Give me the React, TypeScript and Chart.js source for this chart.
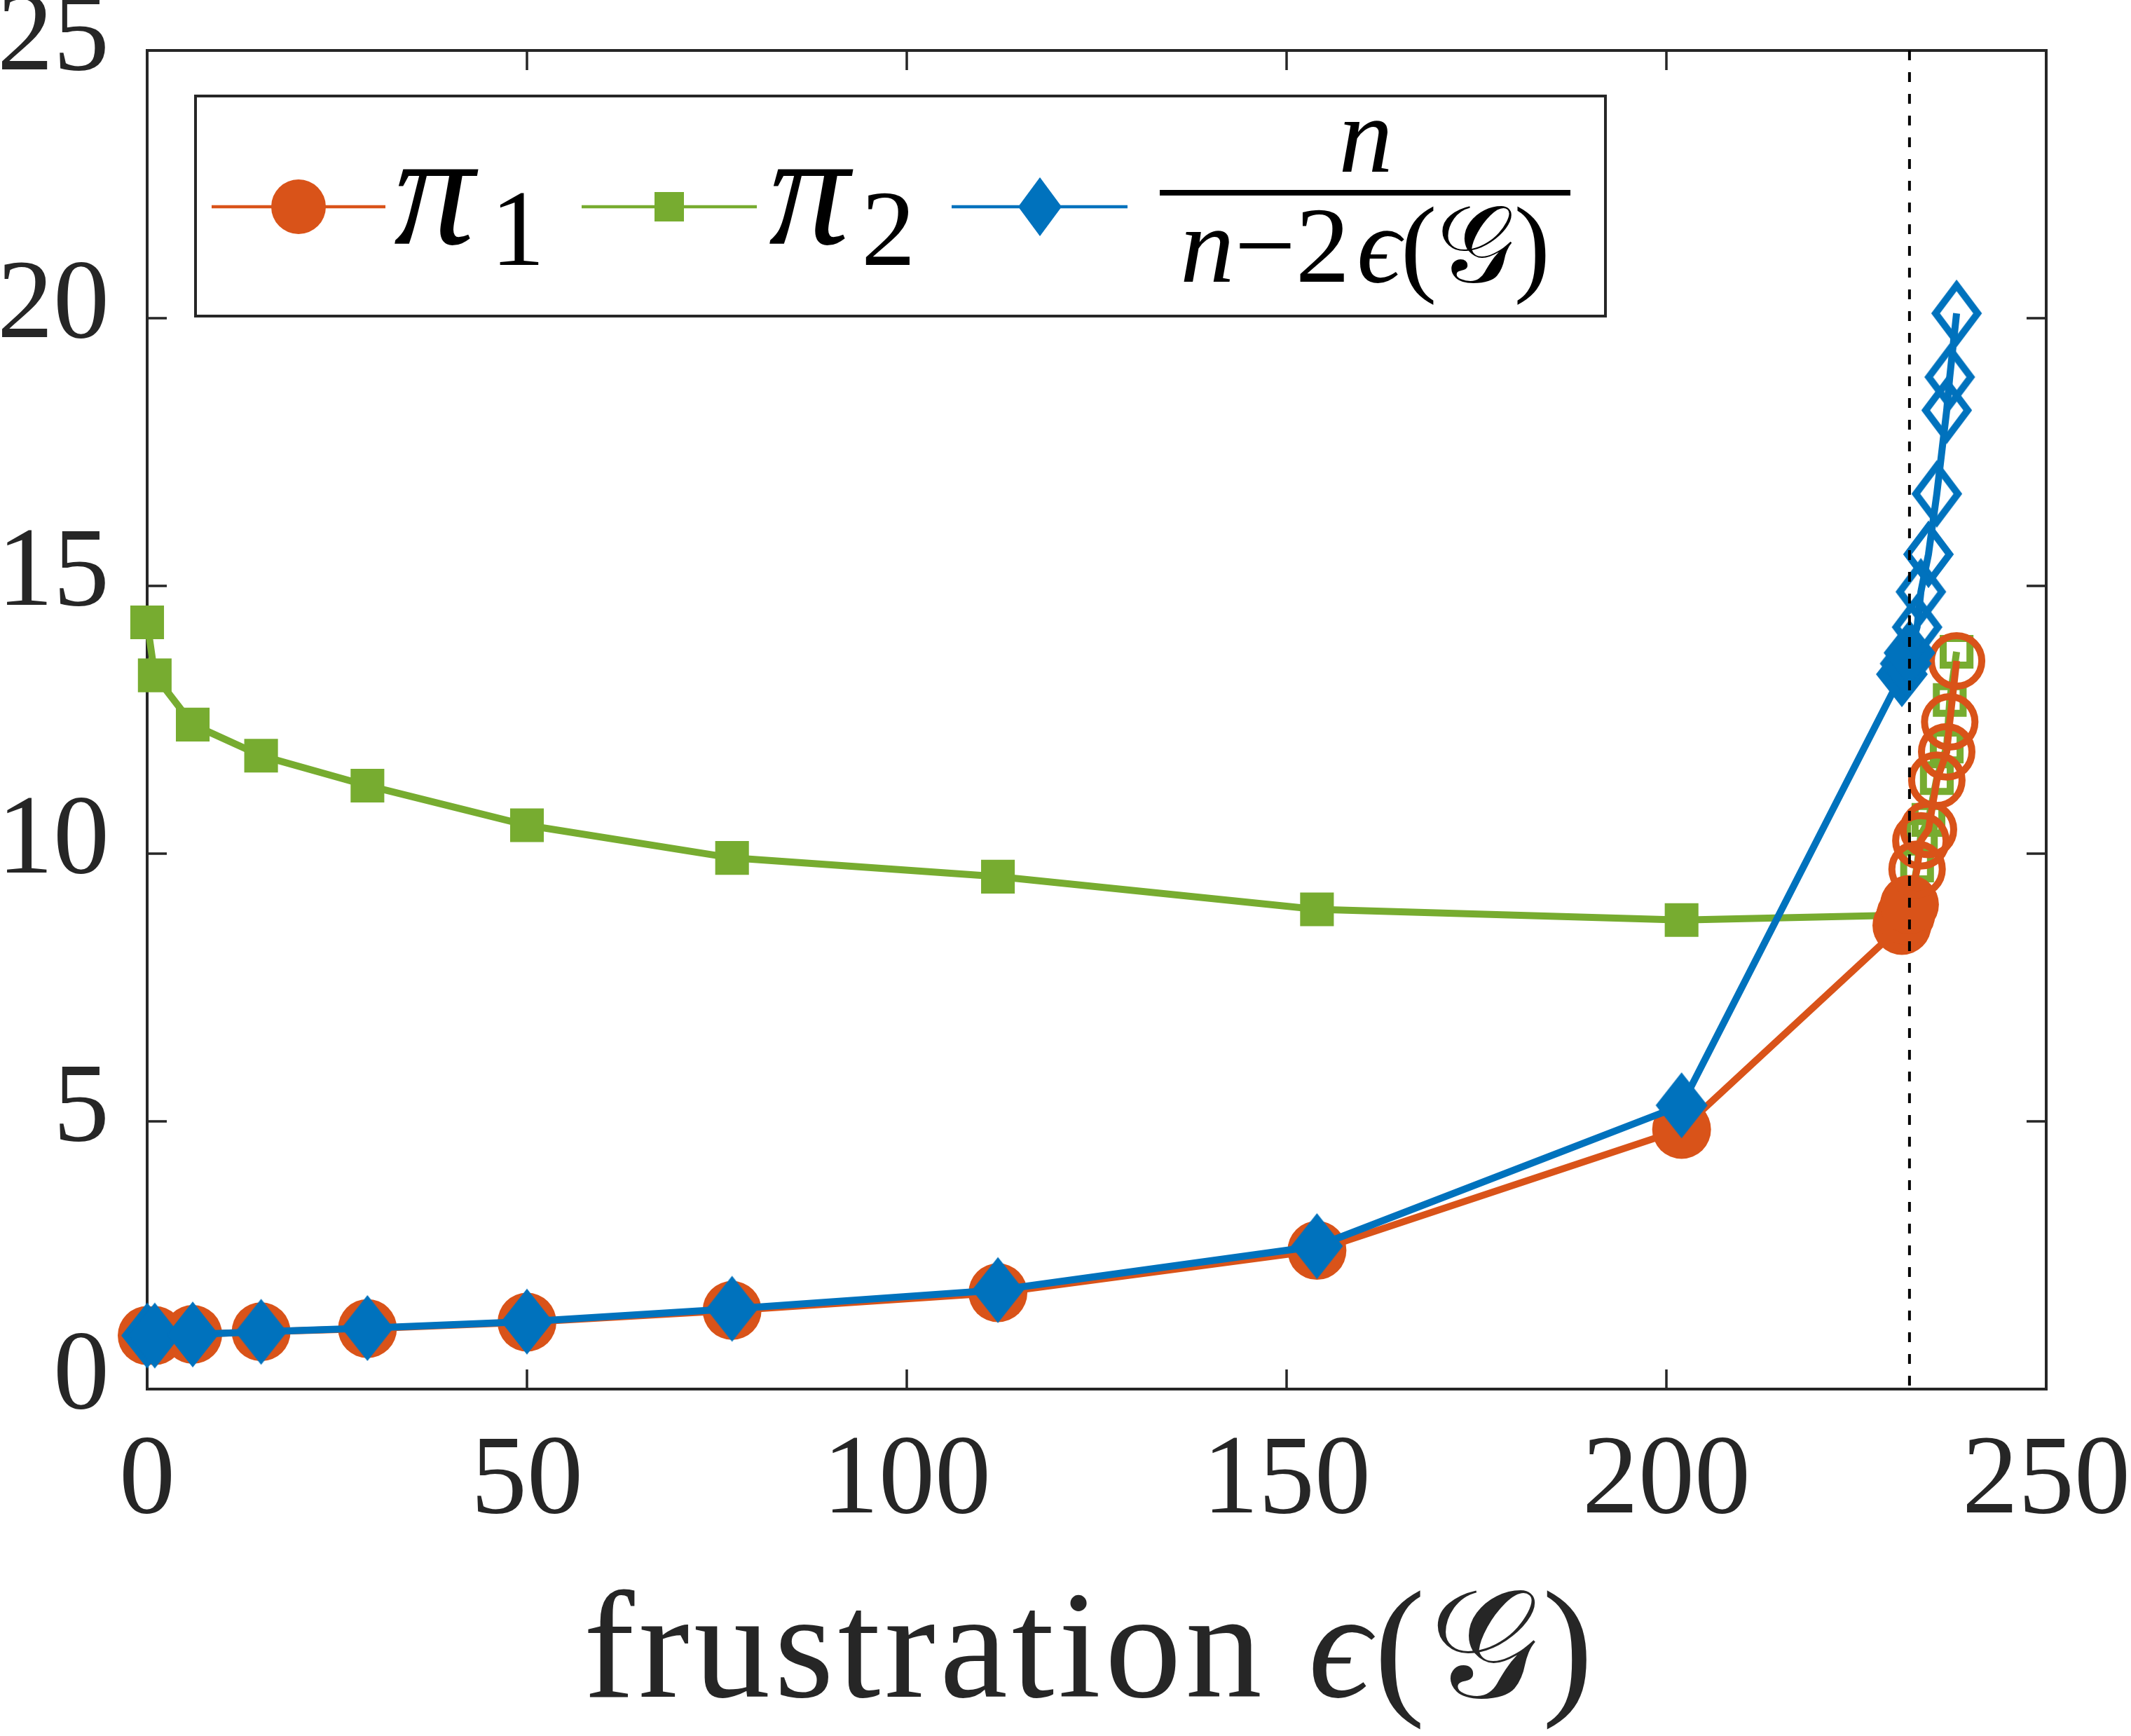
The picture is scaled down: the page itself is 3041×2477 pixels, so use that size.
import React, { useEffect, useRef } from 'react';
import { Chart, registerables } from 'chart.js';

Chart.register(...registerables);

const W = 3041;
const H = 2477;

// frustration of each graph in the sequence (x axis)
const frustration = [0, 1, 6, 15, 29, 50, 77, 112, 154, 202, 231, 231.5, 232, 233, 233.5, 234.5, 235.6, 236.9, 237.3, 238.2];
const pi1 = [1.0, 1.0, 1.02, 1.07, 1.13, 1.25, 1.47, 1.8, 2.59, 4.85, 8.66, 8.85, 9.05, 9.71, 10.24, 10.45, 11.37, 11.9, 12.46, 13.6];
const pi2 = [14.32, 13.33, 12.41, 11.83, 11.27, 10.53, 9.92, 9.57, 8.96, 8.76, 8.85, 8.88, 8.92, 9.78, 10.35, 10.63, 11.41, 12.0, 12.87, 13.77];
const ratio = [1.0, 1.0, 1.02, 1.07, 1.14, 1.26, 1.5, 1.85, 2.67, 5.3, 13.35, 13.55, 13.75, 14.23, 14.89, 15.59, 16.72, 18.28, 18.9, 20.09];
const threshold = 232;
const xTicks = [0, 50, 100, 150, 200, 250];
const yTicks = [0, 5, 10, 15, 20, 25];

const ORANGE = '#D95319';
const GREEN = '#77AC30';
const BLUE = '#0072BD';
const AXIS = '#262626';
const SERIF = "'Liberation Serif', 'DejaVu Serif', 'DejaVu Sans', serif";
const LW = 10;

// tall matlab-like diamond as an image point style
function diamond(hw: number, hh: number, fill: boolean, lw = LW) {
    const pad = fill ? 1 : lw;
    const c = document.createElement('canvas');
    c.width = Math.ceil(2 * (hw + pad));
    c.height = Math.ceil(2 * (hh + pad));
    const g = c.getContext('2d')!;
    const cx = c.width / 2, cy = c.height / 2;
    g.beginPath();
    g.moveTo(cx, cy - hh);
    g.lineTo(cx + hw, cy);
    g.lineTo(cx, cy + hh);
    g.lineTo(cx - hw, cy);
    g.closePath();
    if (fill) {
        g.fillStyle = BLUE;
        g.fill();
    } else {
        g.strokeStyle = BLUE;
        g.lineWidth = lw;
        g.stroke();
    }
    return c;
}

const axesBox = {
    id: 'axesBox',
    beforeDatasetsDraw(chart: any) {
        const { ctx, chartArea: a, scales } = chart;
        ctx.save();
        ctx.strokeStyle = AXIS;
        ctx.lineWidth = 3.5;
        ctx.beginPath();
        for (const v of xTicks) {
            const px = scales.x.getPixelForValue(v);
            ctx.moveTo(px, a.bottom); ctx.lineTo(px, a.bottom - 28);
            ctx.moveTo(px, a.top); ctx.lineTo(px, a.top + 28);
        }
        for (const v of yTicks) {
            const py = scales.y.getPixelForValue(v);
            ctx.moveTo(a.left, py); ctx.lineTo(a.left + 28, py);
            ctx.moveTo(a.right, py); ctx.lineTo(a.right - 28, py);
        }
        ctx.stroke();
        ctx.lineWidth = 4;
        ctx.strokeRect(a.left, a.top, a.right - a.left, a.bottom - a.top);
        ctx.restore();
    }
};

const thresholdLine = {
    id: 'thresholdLine',
    afterDatasetsDraw(chart: any) {
        const { ctx, chartArea: a, scales } = chart;
        const px = scales.x.getPixelForValue(threshold);
        ctx.save();
        ctx.strokeStyle = '#000';
        ctx.lineWidth = 4;
        ctx.setLineDash([14, 17]);
        ctx.beginPath();
        ctx.moveTo(px, a.top);
        ctx.lineTo(px, a.bottom);
        ctx.stroke();
        ctx.restore();
    }
};

function at(x: number, base: number, size: number): React.CSSProperties {
    return {
        position: 'absolute', left: x, top: base - 0.8375 * size, fontSize: size,
        lineHeight: `${size}px`, whiteSpace: 'nowrap', fontFamily: SERIF, color: '#000'
    };
}

export default function App() {
    const canvasRef = useRef<HTMLCanvasElement>(null);
    const chartRef = useRef<Chart | null>(null);

    useEffect(() => {
        if (!canvasRef.current) return;
        if (chartRef.current) chartRef.current.destroy();
        const ctx = canvasRef.current.getContext('2d');
        if (!ctx) return;

        const open = frustration.map((x) => x > threshold);
        const filledD = diamond(37, 47, true);
        const openD = diamond(30, 40, false);
        const tickFont = { family: SERIF, size: 160 };

        chartRef.current = new Chart(ctx, {
            type: 'line',
            data: {
                datasets: [
                    {
                        label: 'n/(n-2e)',
                        data: frustration.map((x, i) => ({ x, y: ratio[i] })),
                        borderColor: BLUE,
                        borderWidth: LW,
                        pointStyle: open.map((o) => (o ? openD : filledD)) as any,
                        pointRadius: 40,
                        clip: false as any,
                    },
                    {
                        label: 'pi1',
                        data: frustration.map((x, i) => ({ x, y: pi1[i] })),
                        borderColor: ORANGE,
                        borderWidth: LW,
                        pointStyle: 'circle',
                        pointRadius: open.map((o) => (o ? 36 : 42)),
                        pointBorderWidth: open.map((o) => (o ? LW : 0)),
                        pointBackgroundColor: open.map((o) => (o ? 'rgba(0,0,0,0)' : ORANGE)),
                        pointBorderColor: ORANGE,
                        clip: false as any,
                    },
                    {
                        label: 'pi2',
                        data: frustration.map((x, i) => ({ x, y: pi2[i] })),
                        borderColor: GREEN,
                        borderWidth: LW,
                        pointStyle: 'rect',
                        pointRadius: open.map((o) => (o ? 27 : 34)),
                        pointBorderWidth: open.map((o) => (o ? LW : 0)),
                        pointBackgroundColor: open.map((o) => (o ? 'rgba(0,0,0,0)' : GREEN)),
                        pointBorderColor: GREEN,
                        clip: false as any,
                    },
                ]
            },
            options: {
                responsive: false,
                devicePixelRatio: 1,
                animation: false,
                layout: { padding: { top: 72, right: 121, left: 0, bottom: 0 } },
                plugins: { legend: { display: false }, tooltip: { enabled: false } },
                elements: { line: { tension: 0 } },
                scales: {
                    x: {
                        type: 'linear', min: 0, max: 250,
                        afterBuildTicks: (s: any) => { s.ticks = xTicks.map((value) => ({ value })); },
                        afterFit: (s: any) => {
                            s.height = H - 1982;
                            s.paddingLeft = 0;
                            s.paddingRight = 0;
                        },
                        grid: { display: false, drawTicks: false },
                        border: { display: false },
                        ticks: { font: tickFont, color: AXIS, padding: 38, maxRotation: 0 }
                    },
                    y: {
                        type: 'linear', min: 0, max: 25,
                        afterBuildTicks: (s: any) => { s.ticks = yTicks.map((value) => ({ value })); },
                        afterFit: (s: any) => {
                            s.width = 210;
                            s.paddingTop = 0;
                            s.paddingBottom = 0;
                        },
                        grid: { display: false, drawTicks: false },
                        border: { display: false },
                        ticks: { font: tickFont, color: AXIS, padding: 54, labelOffset: -15 }
                    }
                }
            },
            plugins: [axesBox, thresholdLine]
        });

        return () => {
            if (chartRef.current) {
                chartRef.current.destroy();
                chartRef.current = null;
            }
        };
    }, []);

    const legendY = 295;

    return (
        <div style={{ position: 'absolute', left: 0, top: 0, width: W, height: H, background: '#fff', overflow: 'hidden' }}>
            <canvas ref={canvasRef} width={W} height={H} style={{ position: 'absolute', left: 0, top: 0 }}></canvas>

            {/* legend box */}
            <div style={{ position: 'absolute', left: 277, top: 135, width: 2293 - 277, height: 453 - 135, border: `4px solid ${AXIS}`, boxSizing: 'border-box', background: '#fff' }}></div>
            <svg width={W} height={500} style={{ position: 'absolute', left: 0, top: 0 }}>
                <line x1={302} x2={550} y1={legendY} y2={legendY} stroke={ORANGE} strokeWidth={4.5} />
                <circle cx={426} cy={legendY} r={39} fill={ORANGE} />
                <line x1={830} x2={1080} y1={legendY} y2={legendY} stroke={GREEN} strokeWidth={4.5} />
                <rect x={955 - 21} y={legendY - 21} width={42} height={42} fill={GREEN} />
                <line x1={1358} x2={1609} y1={legendY} y2={legendY} stroke={BLUE} strokeWidth={4.5} />
                <polygon points={`1484,${legendY - 42} 1515,${legendY} 1484,${legendY + 42} 1453,${legendY}`} fill={BLUE} />
                <rect x={1655} y={271} width={586} height={8} fill="#000" />
            </svg>
            <div style={{ ...at(562, 349, 230), fontStyle: 'italic' }}>π</div>
            <div style={at(700, 379, 155)}>1</div>
            <div style={{ ...at(1097, 349, 230), fontStyle: 'italic' }}>π</div>
            <div style={at(1229, 379, 155)}>2</div>
            <div style={{ ...at(1949, 246, 155), fontStyle: 'italic', transform: 'translateX(-50%)' }}>n</div>
            <div style={{ ...at(1948, 403, 155), transform: 'translateX(-50%)' }}>
                <i>n</i>−2<span style={{ marginLeft: 10 }}></span><i>ϵ</i>(𝒢)
            </div>

            {/* x axis title */}
            <div style={{ ...at(1556, 2422, 218), color: AXIS, letterSpacing: 6, transform: 'translateX(-50%)' }}>
                frustration <i>ϵ</i>(𝒢)
            </div>
        </div>
    );
}
